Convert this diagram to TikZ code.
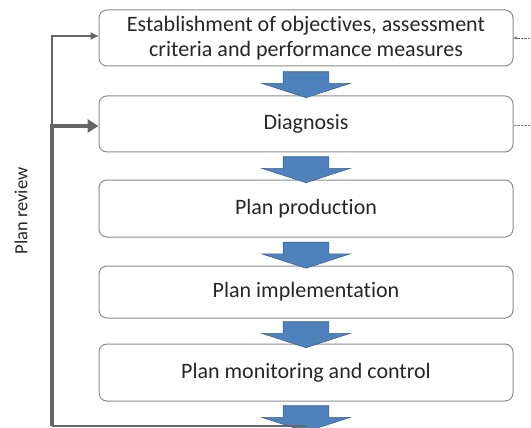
\documentclass[tikz,border=0pt]{standalone}
\usepackage{fontspec}
\setmainfont{Carlito}[Ligatures=NoCommon]
\usetikzlibrary{shapes.arrows,calc,arrows.meta}
\definecolor{flowblue}{HTML}{4F81BD}
\definecolor{flowedge}{HTML}{3B6696}
\definecolor{linegray}{HTML}{666666}
\begin{document}
\begin{tikzpicture}[x=1pt,y=-1pt,
  stage/.style={draw=black!45, line width=1pt, rounded corners=8pt, minimum width=414pt,
    minimum height=56pt, align=center, font=\fontsize{22}{25.5}\selectfont, text=black!85},
  flow/.style={single arrow, draw=flowedge, fill=flowblue, line width=0.6pt, rotate=-90,
    minimum height=26pt, inner xsep=0pt, inner ysep=22.5pt,
    single arrow head extend=21.5pt, single arrow tip angle=144},
  review/.style={draw=linegray, line width=#1},
  review/.default=2pt]
\useasboundingbox (0,0) rectangle (531,428);
\node[stage] (est) at (306,38){Establishment of objectives, assessment\\criteria and performance measures};
\node[stage] (diag) at (306,124){Diagnosis};
\node[stage, minimum height=57pt] (prod) at (306,208.5){Plan production};
\node[stage, minimum height=52pt] (impl) at (306,292){Plan implementation};
\node[stage, minimum height=57pt] (mon) at (306,372.5){Plan monitoring and control};
\node[flow] (arr1) at ($(est.south)!0.5!(diag.north)$){};
\node[flow] (arr2) at ($(diag.south)!0.5!(prod.north)$){};
\node[flow] (arr3) at ($(prod.south)!0.5!(impl.north)$){};
\node[flow] (arr4) at ($(impl.south)!0.5!(mon.north)$){};
\node[flow] (arr5) at (306,415){};
% plan review loop
\coordinate (corner) at (52,426);
\coordinate (turn1) at (52,36);
\coordinate (turn2) at (52,126);
\draw[review=2.5pt] (corner -| arr5.tip) -- (corner);
\draw[review=4pt, -{Triangle[length=11pt,width=13pt]}] (corner) -- (turn2) -- (turn2 -| diag.west);
\draw[review=2pt, -{Triangle[length=8pt,width=7pt]}] (turn2) -- (turn1) -- (turn1 -| est.west);
\node[rotate=90, font=\fontsize{18.5}{21}\selectfont, text=black!85] (lbl) at (21,211){Plan review};
% inputs from the right
\coordinate (in1) at (531,38);
\coordinate (in2) at (531,125);
\draw[black!60, densely dotted, -{Latex[length=3pt,width=3pt]}] (in1) -- (est.east);
\draw[black!50, densely dotted] (in2) -- (in2 -| diag.east);
\end{tikzpicture}
\end{document}
